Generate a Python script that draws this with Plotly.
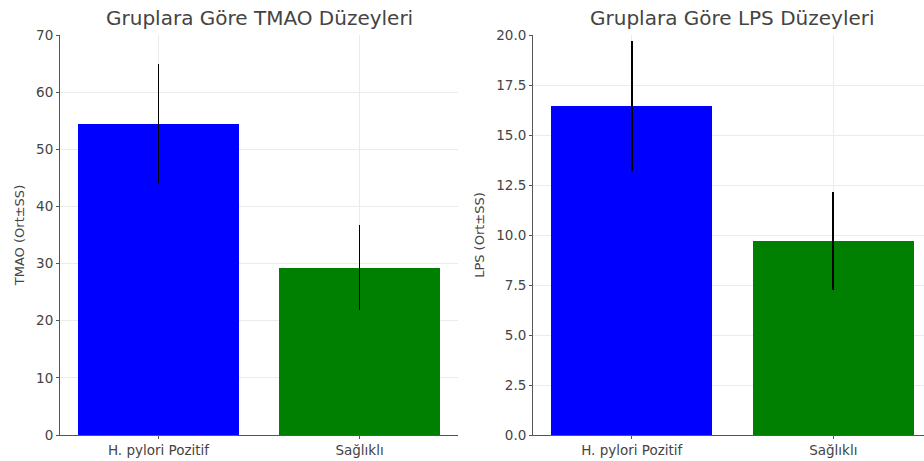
import plotly.graph_objects as go

groups = ["H. pylori Pozitif", "Sağlıklı"]
tmao_mean = [54.5, 29.3]
tmao_sd = [10.5, 7.4]
lps_mean = [16.45, 9.7]
lps_sd = [3.25, 2.45]
bar_colors = ["#0000ff", "#008000"]

W, H = 924, 461
fig = go.Figure()

fig.add_trace(go.Bar(
    x=[0, 1], y=tmao_mean, width=0.8, marker=dict(color=bar_colors, line=dict(width=0)),
    error_y=dict(type="data", array=tmao_sd, color="black", thickness=1.8, width=0),
    xaxis="x", yaxis="y", showlegend=False,
))
fig.add_trace(go.Bar(
    x=[0, 1], y=lps_mean, width=0.8, marker=dict(color=bar_colors, line=dict(width=0)),
    error_y=dict(type="data", array=lps_sd, color="black", thickness=1.8, width=0),
    xaxis="x2", yaxis="y2", showlegend=False,
))

axis_common = dict(
    showline=True, linecolor="#555555", linewidth=1,
    ticks="outside", ticklen=3, tickcolor="#555555",
    tickfont=dict(size=13.5, color="#444444"),
    showgrid=True, gridcolor="#ebebeb", gridwidth=1, zeroline=False,
)

fig.update_layout(
    width=W, height=H,
    margin=dict(l=0, r=0, t=35, b=26),
    paper_bgcolor="white", plot_bgcolor="white",
    font=dict(family="DejaVu Sans", color="#444444"),
    bargap=0,
    xaxis=dict(domain=[60 / W, 458 / W], range=[-0.49, 1.49],
               tickvals=[0, 1], ticktext=groups, **axis_common),
    yaxis=dict(range=[0, 70], dtick=10, anchor="x",
               title=dict(text="TMAO (Ort±SS)", font=dict(size=13, color="#444444"), standoff=8),
               **axis_common),
    xaxis2=dict(domain=[533 / W, 1.0], range=[-0.49, 1.45], anchor="y2",
                tickvals=[0, 1], ticktext=groups, **axis_common),
    yaxis2=dict(range=[0, 20], dtick=2.5, tickformat=".1f", anchor="x2",
                title=dict(text="LPS (Ort±SS)", font=dict(size=13, color="#444444"), standoff=8),
                **axis_common),
    annotations=[
        dict(text="Gruplara Göre TMAO Düzeyleri", x=259 / W, y=1, xref="paper", yref="paper",
             xanchor="center", yanchor="middle", yshift=17, showarrow=False,
             font=dict(size=20, color="#444444")),
        dict(text="Gruplara Göre LPS Düzeyleri", x=732 / W, y=1, xref="paper", yref="paper",
             xanchor="center", yanchor="middle", yshift=17, showarrow=False,
             font=dict(size=20, color="#444444")),
    ],
)

fig.write_html("out.html", config={"displayModeBar": False},
               post_script="document.body.style.margin='0';")
